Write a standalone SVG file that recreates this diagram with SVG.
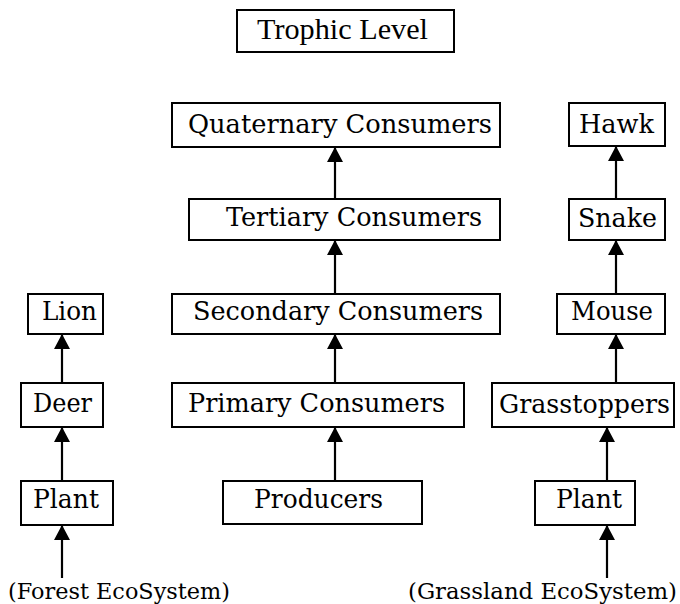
<svg xmlns="http://www.w3.org/2000/svg" width="680" height="604" viewBox="0 0 680 604">
<defs>
<marker id="ah" markerUnits="userSpaceOnUse" markerWidth="16" markerHeight="16" refX="15" refY="8" orient="auto">
<path d="M0,0 L15,8 L0,16 Z" fill="#000"/>
</marker>
<style>
rect{fill:#fff;stroke:#000;stroke-width:2}
text{font-family:"DejaVu Serif","Liberation Serif",serif;font-size:26.5px;fill:#000}
.t{font-family:"Liberation Serif","Times New Roman",serif;font-size:29px}
.s{font-size:22px}
.c line{stroke:#000;stroke-width:2.2;marker-end:url(#ah)}
</style>
</defs>
<rect x="0" y="0" width="680" height="604" style="stroke:none;fill:#fff"/>
<g id="trophic"><rect x="237" y="10" width="217" height="42"/><text class="t" x="257" y="39" textLength="171" lengthAdjust="spacingAndGlyphs">Trophic Level</text></g>
<g id="quaternary"><rect x="172" y="103" width="328" height="44"/><text x="188" y="133" textLength="304" lengthAdjust="spacingAndGlyphs">Quaternary Consumers</text></g>
<g id="hawk"><rect x="569" y="103" width="96" height="43"/><text x="579" y="133" textLength="75" lengthAdjust="spacingAndGlyphs">Hawk</text></g>
<g id="tertiary"><rect x="189" y="199" width="311" height="41"/><text x="226" y="226" textLength="256" lengthAdjust="spacingAndGlyphs">Tertiary Consumers</text></g>
<g id="snake"><rect x="569" y="199" width="96" height="41"/><text x="578" y="227" textLength="79" lengthAdjust="spacingAndGlyphs">Snake</text></g>
<g id="lion"><rect x="28" y="294" width="75" height="40"/><text x="42" y="320" textLength="55" lengthAdjust="spacingAndGlyphs">Lion</text></g>
<g id="secondary"><rect x="172" y="294" width="328" height="40"/><text x="193" y="320" textLength="290" lengthAdjust="spacingAndGlyphs">Secondary Consumers</text></g>
<g id="mouse"><rect x="557" y="294" width="108" height="40"/><text x="571" y="320" textLength="82" lengthAdjust="spacingAndGlyphs">Mouse</text></g>
<g id="deer"><rect x="21" y="383" width="82" height="44"/><text x="33" y="412" textLength="59" lengthAdjust="spacingAndGlyphs">Deer</text></g>
<g id="primary"><rect x="172" y="383" width="292" height="44"/><text x="188" y="412" textLength="257" lengthAdjust="spacingAndGlyphs">Primary Consumers</text></g>
<g id="grasstoppers"><rect x="492" y="383" width="182" height="44"/><text x="499" y="413" textLength="171" lengthAdjust="spacingAndGlyphs">Grasstoppers</text></g>
<g id="plant-forest"><rect x="21" y="481" width="92" height="44"/><text x="33" y="508" textLength="66" lengthAdjust="spacingAndGlyphs">Plant</text></g>
<g id="producers"><rect x="223" y="481" width="199" height="43"/><text x="254" y="508" textLength="129" lengthAdjust="spacingAndGlyphs">Producers</text></g>
<g id="plant-grassland"><rect x="535" y="481" width="100" height="44"/><text x="556" y="508" textLength="66" lengthAdjust="spacingAndGlyphs">Plant</text></g>
<g id="forest-label"><text class="s" x="8" y="599" textLength="222" lengthAdjust="spacingAndGlyphs">(Forest EcoSystem)</text></g>
<g id="grassland-label"><text class="s" x="408" y="599" textLength="269" lengthAdjust="spacingAndGlyphs">(Grassland EcoSystem)</text></g>
<g id="connectors" class="c">
<line x1="335" y1="199" x2="335" y2="147"/>
<line x1="335" y1="294" x2="335" y2="240"/>
<line x1="335" y1="383" x2="335" y2="334"/>
<line x1="335" y1="481" x2="335" y2="427"/>
<line x1="616" y1="199" x2="616" y2="146"/>
<line x1="616" y1="294" x2="616" y2="240"/>
<line x1="616" y1="383" x2="616" y2="334"/>
<line x1="607" y1="481" x2="607" y2="427"/>
<line x1="607" y1="578" x2="607" y2="525"/>
<line x1="62" y1="383" x2="62" y2="334"/>
<line x1="62" y1="481" x2="62" y2="427"/>
<line x1="62" y1="578" x2="62" y2="525"/>
</g>
</svg>
